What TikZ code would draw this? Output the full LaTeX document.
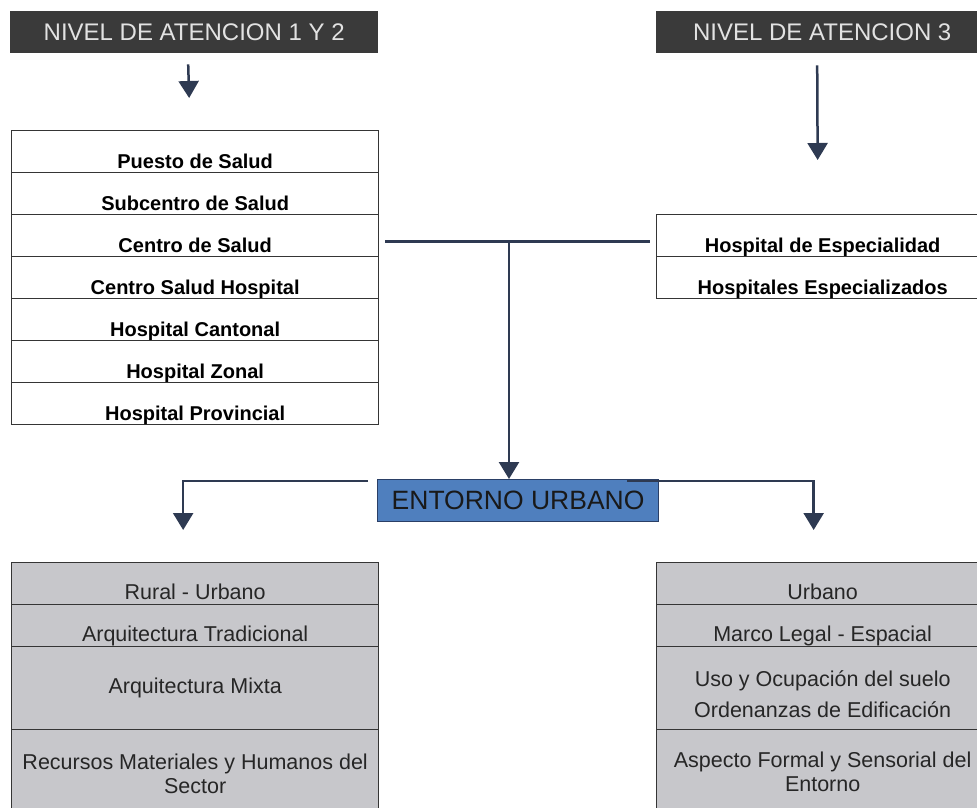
\documentclass[tikz,border=0pt]{standalone}
\usepackage{fontspec}
\setmainfont{Liberation Sans}
\usetikzlibrary{arrows.meta}
\definecolor{hdrcol}{HTML}{3A3A3A}
\definecolor{hdrtxt}{HTML}{E2E2E2}
\definecolor{conncol}{HTML}{2E3A52}
\definecolor{entfill}{HTML}{4F7FBE}
\definecolor{entline}{HTML}{2A3F66}
\definecolor{greyfill}{HTML}{C7C7CB}
\definecolor{boxline}{HTML}{353535}
\begin{document}
\begin{tikzpicture}[x=1pt,y=-1pt,
  header/.style={fill=hdrcol, draw=none, text=hdrtxt, font=\fontsize{24}{27}\selectfont,
    minimum height=42pt, inner sep=0pt, anchor=north west},
  toprow/.style={draw=boxline, line width=1.3pt, fill=white,
    font=\bfseries\fontsize{20}{23}\selectfont, minimum height=42pt, inner sep=0pt,
    text height=33pt, text depth=0pt, anchor=north west},
  botrow/.style={draw=boxline, line width=1.3pt, fill=greyfill, text=black!85,
    font=\fontsize{21.5}{24.5}\selectfont, inner sep=0pt, anchor=north west},
  botone/.style={botrow, minimum height=42pt, text height=31pt, text depth=0pt},
  link/.style={draw=conncol, line width=2.5pt},
  arr/.style={link, -{Triangle[length=17pt,width=20pt]}},
]
\useasboundingbox (0,0) rectangle (977,807);

% headers
\node[header, minimum width=368pt] (h1) at (10,11) {NIVEL DE ATENCION 1 Y 2};
\node[header, minimum width=332pt] (h2) at (656,11) {NIVEL DE ATENCION 3};

% left list (levels 1 and 2)
\node[toprow, minimum width=367pt] (p1) at (11,130) {Puesto de Salud};
\node[toprow, minimum width=367pt] (p2) at (11,172) {Subcentro de Salud};
\node[toprow, minimum width=367pt] (p3) at (11,214) {Centro de Salud};
\node[toprow, minimum width=367pt] (p4) at (11,256) {Centro Salud Hospital};
\node[toprow, minimum width=367pt] (p5) at (11,298) {Hospital Cantonal};
\node[toprow, minimum width=367pt] (p6) at (11,340) {Hospital Zonal};
\node[toprow, minimum width=367pt] (p7) at (11,382) {Hospital Provincial};

% right list (level 3)
\node[toprow, minimum width=332pt] (r1) at (656,214) {Hospital de Especialidad};
\node[toprow, minimum width=332pt] (r2) at (656,256) {Hospitales Especializados};

% entorno urbano
\node[draw=entline, line width=1.2pt, fill=entfill, text=black!90, font=\fontsize{26.5}{30}\selectfont,
  minimum width=281pt, minimum height=42pt, inner sep=0pt, anchor=north west] (ent) at (377,479) {ENTORNO URBANO};

% bottom left
\node[botone, minimum width=367pt] (bl1) at (11,562) {Rural - Urbano};
\node[botone, minimum width=367pt] (bl2) at (11,604) {Arquitectura Tradicional};
\node[botrow, minimum width=367pt, minimum height=83pt] (bl3) at (11,646) {Arquitectura Mixta};
\node[botrow, minimum width=367pt, minimum height=82pt] (bl4) at (11,729)
  {\raisebox{-6pt}[\height][\depth]{\begin{tabular}{@{}c@{}}Recursos Materiales y Humanos del\\Sector\end{tabular}}};

% bottom right
\node[botone, minimum width=332pt] (br1) at (656,562) {Urbano};
\node[botone, minimum width=332pt] (br2) at (656,604) {Marco Legal - Espacial};
\node[botrow, minimum width=332pt, minimum height=83pt] (br3) at (656,646)
  {\raisebox{-9pt}[\height][\depth]{\begin{tabular}{@{}c@{}}Uso y Ocupación del suelo\\[6pt]Ordenanzas de Edificación\end{tabular}}};
\node[botrow, minimum width=332pt, minimum height=82pt] (br4) at (656,729)
  {\raisebox{-4pt}[\height][\depth]{\begin{tabular}{@{}c@{}}Aspecto Formal y Sensorial del\\Entorno\end{tabular}}};

% connectors
\draw[arr] ([xshift=-6pt,yshift=-11pt]h1.south) -- ([xshift=-6pt,yshift=32pt]p1.north);
\draw[arr] ([xshift=-5pt,yshift=-12pt]h2.south) -- ([xshift=-5pt,yshift=54pt]r1.north);
\draw[link] ([xshift=6pt,yshift=-6pt]p3.east) -- ([xshift=-6pt,yshift=-6pt]r1.west);
\coordinate (j) at (509,241);
\draw[arr] (j) -- (j |- ent.north);
\draw[arr] ([xshift=-9pt,yshift=-2pt]ent.north west) -| ([xshift=-12pt,yshift=32pt]bl1.north);
\draw[arr] ([xshift=-32pt,yshift=-2pt]ent.north east) -| ([xshift=-9pt,yshift=32pt]br1.north);
\end{tikzpicture}
\end{document}
